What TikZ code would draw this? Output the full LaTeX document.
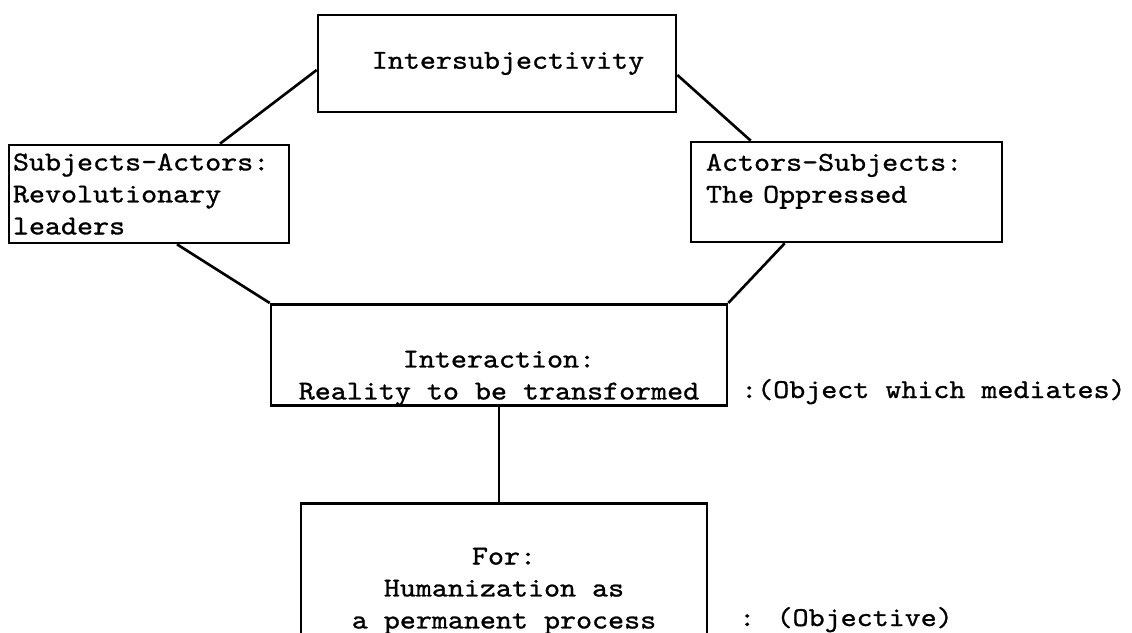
\documentclass[tikz,border=0pt]{standalone}
\usepackage{fontspec}
\newfontfamily\typewriter{lmmono10-regular.otf}[FakeStretch=1.12, FakeBold=1]

\begin{document}
\begin{tikzpicture}[
    box/.style={draw, line width=1.5pt, rectangle, inner sep=0pt},
    link/.style={line width=1.5pt},
    every node/.style={font=\typewriter\fontsize{15.5}{18.2}\selectfont}
  ]
      \clip (0,0) rectangle (22.64,12.64);
      \node[box, minimum width=7.16cm, minimum height=1.94cm] (inter) at (9.94,11.37) {\hspace*{0.44cm}Intersubjectivity};
      \node[box, align=left, text width=5.44cm, inner xsep=0.08cm, minimum height=1.96cm] (subj) at (2.98,8.76) {Subjects-Actors:\\Revolutionary\\leaders};
      \node[box, align=left, text width=5.62cm, inner xsep=0.3cm, minimum height=2cm] (opp) at (16.93,8.80) {Actors-Subjects:\\The Oppressed\\[-8pt]\strut};
      \node[box, align=center, minimum width=9.12cm, minimum height=2cm] (mid) at (9.98,5.54) {\strut\\[5pt]Interaction:\\Reality to be transformed};
      \node[box, align=center, minimum width=8.12cm, minimum height=2.76cm, anchor=north] (goal) at (10.08,2.60) {\strut\\For:\\Humanization as\\a permanent process};
      \node[anchor=base west] (mediates) at (14.70,4.68) {:(Object which mediates)};
      \node[anchor=base west] (objective) at (14.66,0.12) {: (Objective)};
      % lines between the boxes
      \draw[link] ([yshift=-0.13cm]inter.west) -- ([xshift=1.42cm]subj.north);
      \draw[link] ([xshift=0.56cm]subj.south) -- (mid.north west);
      \draw[link] ([yshift=-0.23cm]inter.east) -- ([xshift=1.22cm]opp.north west);
      \draw[link] ([xshift=1.9cm]opp.south west) -- (mid.north east);
      \draw[link] (mid.south) -- (mid.south |- goal.north);
\end{tikzpicture}
\end{document}
